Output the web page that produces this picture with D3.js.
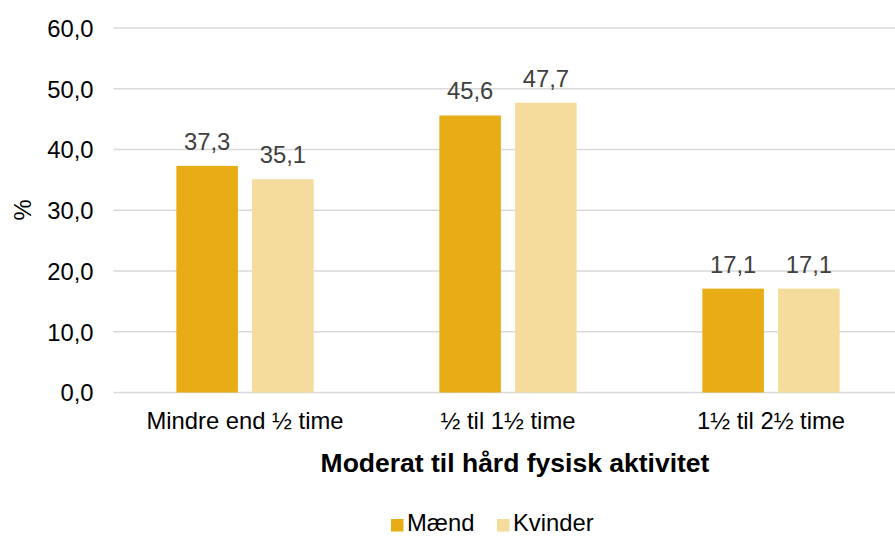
<!DOCTYPE html>
<html>
<head>
<meta charset="utf-8">
<script src="https://cdn.jsdelivr.net/npm/d3@7"></script>
<style>
  body { margin: 0; background: #fff; }
  svg { display: block; font-family: "Liberation Sans", Arial, sans-serif; }
</style>
</head>
<body>
<div id="chart"></div>
<script>
const categories = ["Mindre end ½ time", "½ til 1½ time", "1½ til 2½ time"];
const series = ["Mænd", "Kvinder"];
const maend = [37.3, 45.6, 17.1];
const kvinder = [35.1, 47.7, 17.1];
const yTicks = [0, 10, 20, 30, 40, 50, 60];
const colors = { "Mænd": "#E8AC17", "Kvinder": "#F5DC9C" };

const w = 895;
const h = 536;
const plotLeft = 113.5;
const plotRight = 902.5;
const plotTop = 28;
const plotBottom = 392.5;

const fmt = (d) => d.toFixed(1).replace(".", ",");

const svg = d3.select("#chart").append("svg")
  .attr("width", w)
  .attr("height", h);

const y = d3.scaleLinear().domain([0, 60]).range([plotBottom, plotTop]);
const x0 = d3.scaleBand().domain(categories).range([plotLeft, plotRight]);
const x1 = d3.scaleBand().domain(series)
  .range([0, x0.bandwidth()])
  .paddingInner(0.187)
  .paddingOuter(0.83);

// gridlines
svg.append("g")
  .selectAll("line")
  .data(yTicks)
  .enter()
  .append("line")
  .attr("x1", plotLeft)
  .attr("x2", plotRight)
  .attr("y1", (d) => y(d))
  .attr("y2", (d) => y(d))
  .attr("stroke", "#d9d9d9")
  .attr("stroke-width", 1.5);

// y axis labels
const yAxis = d3.axisLeft(y).tickValues(yTicks).tickFormat(fmt).tickSize(0).tickPadding(20);
const gy = svg.append("g").attr("transform", `translate(${plotLeft},0)`).call(yAxis);
gy.select(".domain").remove();
gy.selectAll("text")
  .attr("font-size", 23.8)
  .attr("font-family", "Liberation Sans, Arial, sans-serif")
  .attr("fill", "#000")
  .attr("dy", "0.35em");

const rows = categories.map((c, i) => ({ cat: c, values: [maend[i], kvinder[i]] }));

const groups = svg.append("g")
  .selectAll("g")
  .data(rows)
  .enter()
  .append("g")
  .attr("transform", (d) => `translate(${x0(d.cat)},0)`);

groups.selectAll("rect")
  .data((d) => d.values.map((v, j) => ({ s: series[j], v: v })))
  .enter()
  .append("rect")
  .attr("x", (d) => x1(d.s))
  .attr("width", x1.bandwidth())
  .attr("y", (d) => y(d.v))
  .attr("height", (d) => y(0) - y(d.v))
  .attr("fill", (d) => colors[d.s]);

groups.selectAll("text")
  .data((d) => d.values.map((v, j) => ({ s: series[j], v: v })))
  .enter()
  .append("text")
  .attr("x", (d) => x1(d.s) + x1.bandwidth() / 2)
  .attr("y", (d) => y(d.v) - 16)
  .attr("text-anchor", "middle")
  .attr("font-size", 23.8)
  .attr("fill", "#404040")
  .text((d) => fmt(d.v));

// x axis labels
const xAxis = d3.axisBottom(x0).tickSize(0).tickPadding(0);
const gx = svg.append("g").attr("transform", `translate(0,${plotBottom})`).call(xAxis);
gx.select(".domain").remove();
gx.selectAll("text")
  .attr("font-size", 23.8)
  .attr("font-family", "Liberation Sans, Arial, sans-serif")
  .attr("fill", "#000")
  .attr("y", 36)
  .attr("dy", 0);

// axis titles
svg.append("text")
  .attr("x", 515)
  .attr("y", 472)
  .attr("text-anchor", "middle")
  .attr("font-size", 26.5)
  .attr("font-weight", "bold")
  .text("Moderat til hård fysisk aktivitet");

svg.append("text")
  .attr("transform", "translate(31,210) rotate(-90)")
  .attr("text-anchor", "middle")
  .attr("font-size", 23.8)
  .text("%");

// legend
const legend = svg.append("g").attr("transform", "translate(391,0)");
const lx = [0, 106];
legend.selectAll("rect")
  .data(series)
  .enter()
  .append("rect")
  .attr("x", (d, i) => lx[i])
  .attr("y", 519)
  .attr("width", 12.5)
  .attr("height", 12.5)
  .attr("fill", (d) => colors[d]);
legend.selectAll("text")
  .data(series)
  .enter()
  .append("text")
  .attr("x", (d, i) => lx[i] + 16)
  .attr("y", 531)
  .attr("font-size", 23.8)
  .text((d) => d);
</script>
</body>
</html>
